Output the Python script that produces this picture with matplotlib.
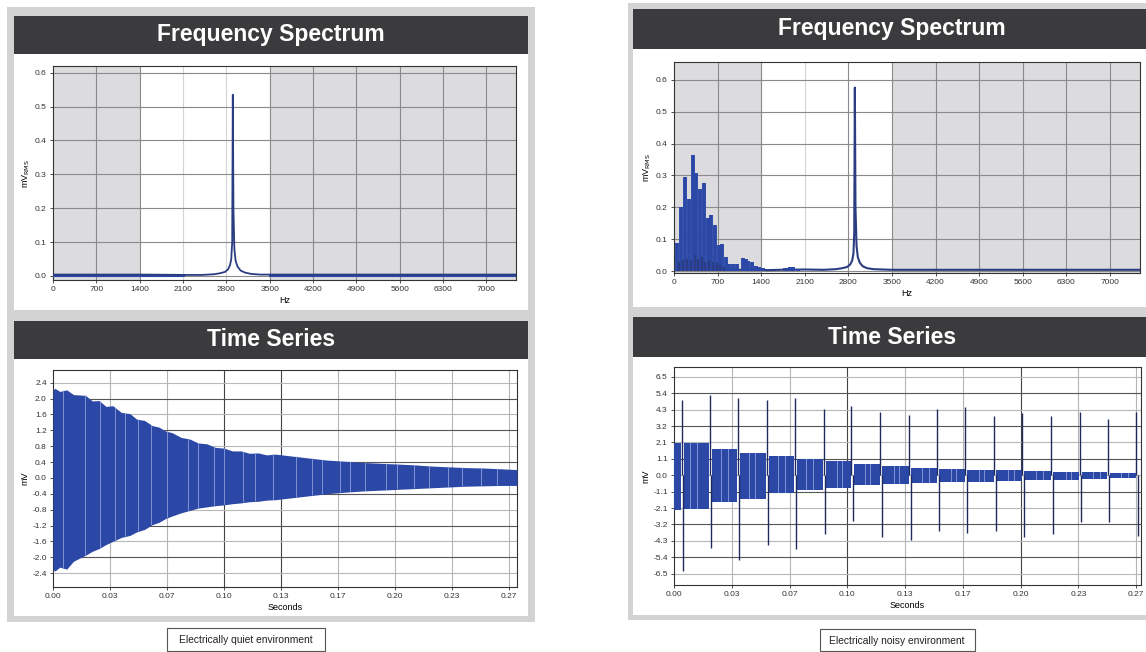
import matplotlib
matplotlib.use("Agg")
import matplotlib.pyplot as plt
from matplotlib.patches import Rectangle

plt.rcParams['font.family'] = ['Liberation Sans', 'DejaVu Sans']

W, H = 1146, 652

# ---- data ----
freq_ticks = [0, 700, 1400, 2100, 2800, 3500, 4200, 4900, 5600, 6300, 7000]
amp_ticks = [0.0, 0.1, 0.2, 0.3, 0.4, 0.5, 0.6]
amp_labels = ['0.0', '0.1', '0.2', '0.3', '0.4', '0.5', '0.6']

time_ticks = [0, 1/30, 2/30, 3/30, 4/30, 5/30, 6/30, 7/30, 8/30]
time_labels = ['0.00', '0.03', '0.07', '0.10', '0.13', '0.17', '0.20', '0.23', '0.27']

# quiet spectrum
quiet_freq = [0, 700, 1400, 2100, 2400, 2600, 2700, 2780, 2830, 2860, 2880, 2895,
              2905, 2915, 2930, 2950, 2980, 3030, 3100, 3200, 3350, 3500, 4200, 5600, 7000, 7480]
quiet_amp = [0.004, 0.004, 0.004, 0.003, 0.003, 0.005, 0.008, 0.012, 0.02, 0.032, 0.05, 0.1,
             0.535, 0.2, 0.08, 0.045, 0.028, 0.016, 0.01, 0.006, 0.004, 0.004, 0.004, 0.004, 0.004, 0.004]

# noisy spectrum: low frequency lines and the main peak
noisy_bar_freq = [54, 113, 178, 242, 307, 355, 415, 474, 538, 598, 652, 716, 770,
                  835, 888, 953, 1018, 1104, 1150, 1195, 1250, 1314, 1368, 1427,
                  1777, 1830, 1858, 1912, 1992]
noisy_bar_amp = [0.09, 0.203, 0.296, 0.227, 0.364, 0.309, 0.258, 0.278, 0.168, 0.177,
                 0.146, 0.082, 0.087, 0.044, 0.023, 0.023, 0.023, 0.041, 0.04, 0.031,
                 0.03, 0.018, 0.015, 0.012, 0.01, 0.012, 0.015, 0.015, 0.008]
noisy_small_freq = [80, 145, 210, 275, 330, 385, 445, 505, 565, 625, 685, 740, 800]
noisy_small_amp = [0.03, 0.035, 0.04, 0.035, 0.05, 0.04, 0.045, 0.03, 0.035, 0.03, 0.025, 0.02, 0.015]
noisy_freq = [0, 1400, 1500, 1700, 2100, 2400, 2600, 2700, 2780, 2830, 2860, 2880, 2893,
              2903, 2913, 2930, 2950, 2980, 3030, 3100, 3200, 3500, 4200, 5600, 7000, 7480]
noisy_amp = [0.005, 0.005, 0.004, 0.005, 0.006, 0.005, 0.007, 0.01, 0.014, 0.022, 0.034, 0.055, 0.12,
             0.575, 0.2, 0.08, 0.045, 0.028, 0.016, 0.01, 0.007, 0.005, 0.005, 0.005, 0.005, 0.005]

# quiet time series: envelope of the decaying oscillation
quiet_t = [0.0, 0.001, 0.004, 0.008, 0.012, 0.019, 0.023, 0.027, 0.031, 0.035, 0.04, 0.045,
           0.049, 0.0535, 0.058, 0.062, 0.066, 0.0697, 0.075, 0.08, 0.085, 0.09,
           0.095, 0.10, 0.105, 0.11, 0.115, 0.12, 0.125, 0.13, 0.14, 0.15, 0.16, 0.171,
           0.181, 0.191, 0.201, 0.211, 0.221, 0.231, 0.241, 0.2515, 0.262, 0.2715]
quiet_hi = [2.2, 2.26, 2.18, 2.22, 2.1, 2.08, 1.94, 1.95, 1.8, 1.82, 1.65, 1.62,
            1.48, 1.45, 1.32, 1.28, 1.18, 1.14, 1.02, 0.98, 0.88, 0.86,
            0.77, 0.75, 0.68, 0.68, 0.62, 0.63, 0.58, 0.6, 0.55, 0.5, 0.45, 0.42,
            0.39, 0.37, 0.35, 0.33, 0.3, 0.28, 0.26, 0.25, 0.23, 0.21]
quiet_lo = [-2.3, -2.35, -2.25, -2.3, -2.1, -1.95, -1.85, -1.78, -1.68, -1.6, -1.5, -1.45,
            -1.36, -1.3, -1.18, -1.12, -1.02, -0.96, -0.88, -0.82, -0.76, -0.73,
            -0.7, -0.68, -0.65, -0.63, -0.6, -0.59, -0.56, -0.55, -0.5, -0.45, -0.4, -0.36,
            -0.33, -0.31, -0.29, -0.27, -0.25, -0.23, -0.21, -0.2, -0.19, -0.19]
quiet_streak_t = [0.006, 0.019, 0.0273, 0.0364, 0.0424, 0.0495, 0.0576, 0.0667, 0.0788,
                  0.0848, 0.094, 0.1, 0.111, 0.118, 0.129, 0.142, 0.1515, 0.1576, 0.1677,
                  0.1737, 0.1828, 0.195, 0.201, 0.211, 0.2202, 0.2313, 0.2394, 0.2505, 0.2596]
quiet_ts_ticks = [-2.4, -2.0, -1.6, -1.2, -0.8, -0.4, 0.0, 0.4, 0.8, 1.2, 1.6, 2.0, 2.4]
quiet_ts_labels = ['-2.4', '-2.0', '-1.6', '-1.2', '-0.8', '-0.4', '0.0',
                   '0.4', '0.8', '1.2', '1.6', '2.0', '2.4']

# noisy time series: band between spikes, and the spikes
spike_t = [0.0044, 0.0207, 0.0367, 0.0535, 0.0696, 0.0864, 0.1024, 0.119, 0.1358,
           0.1519, 0.1681, 0.1849, 0.201, 0.2178, 0.2342, 0.2502, 0.2667]
spike_up = [5.0, 5.3, 5.1, 5.0, 5.1, 4.4, 4.6, 4.2, 4.0, 4.4, 4.5, 3.9, 4.1, 3.9, 4.2, 3.7, 4.2]
spike_down = [-6.3, -4.8, -5.6, -4.6, -4.9, -3.9, -3.0, -4.1, -4.3, -3.7, -3.8, -3.7,
              -4.1, -3.9, -3.1, -3.1, -4.0]
band_t = [0.0] + spike_t
band_hi = [2.1, 2.1, 1.75, 1.5, 1.3, 1.1, 0.92, 0.77, 0.62, 0.5, 0.44, 0.37, 0.33, 0.29, 0.24, 0.2, 0.15]
band_lo = [-2.3, -2.2, -1.75, -1.55, -1.2, -1.0, -0.84, -0.66, -0.6, -0.5, -0.46, -0.42,
           -0.37, -0.33, -0.29, -0.22, -0.15]
noisy_streak_t = [0.009, 0.013, 0.027, 0.031, 0.043, 0.047, 0.06, 0.064, 0.076, 0.08,
                  0.094, 0.097, 0.11, 0.113, 0.127, 0.13, 0.143, 0.147, 0.16, 0.163,
                  0.176, 0.179, 0.193, 0.196, 0.209, 0.213, 0.226, 0.229, 0.242, 0.246,
                  0.258, 0.262]
noisy_ts_ticks = [-6.5, -5.4167, -4.3333, -3.25, -2.1667, -1.0833, 0.0,
                  1.0833, 2.1667, 3.25, 4.3333, 5.4167, 6.5]
noisy_ts_labels = ['-6.5', '-5.4', '-4.3', '-3.2', '-2.1', '-1.1', '0.0',
                   '1.1', '2.1', '3.2', '4.3', '5.4', '6.5']

CARD = '#d3d3d3'
HEAD = '#3b3b3d'
SHADE = '#dcdbdd'
GRID = '#8a8a8a'
LINE = '#2b3d82'
FILL = '#2c48a6'
STREAK = '#8c9fdc'


def fig_rect(fig, x0, y0, x1, y1, color, z=0, ec='none', lw=0):
    fig.add_artist(Rectangle((x0 / W, 1 - y1 / H), (x1 - x0) / W, (y1 - y0) / H,
                             transform=fig.transFigure, facecolor=color,
                             edgecolor=ec, linewidth=lw, zorder=z))


def header(fig, x0, y0, x1, y1, text, cx):
    fig_rect(fig, x0, y0, x1, y1, HEAD, z=1)
    fig.text(cx / W, 1 - (y0 + y1) / 2 / H, text, color='white', fontsize=16.5,
             fontweight='bold', ha='center', va='center', zorder=2)


def add_ax(fig, x0, y0, x1, y1):
    ax = fig.add_axes([x0 / W, 1 - y1 / H, (x1 - x0) / W, (y1 - y0) / H])
    ax.set_zorder(5)
    return ax


def style(ax):
    for s in ax.spines.values():
        s.set_color('#333333')
        s.set_linewidth(0.8)
    ax.tick_params(labelsize=6, length=2.5, width=0.6, colors='#333333', pad=2)


def spectrum_axes(ax, top, bottom, light):
    ax.set_xlim(0, 7480)
    ax.set_ylim(bottom, top)
    ax.axvspan(0, 1400, color=SHADE, zorder=0, lw=0)
    ax.axvspan(3500, 7480, color=SHADE, zorder=0, lw=0)
    ax.set_xticks(freq_ticks)
    ax.set_xticklabels([str(f) for f in freq_ticks])
    ax.set_yticks(amp_ticks)
    ax.set_yticklabels(amp_labels)
    for f in freq_ticks[1:]:
        ax.axvline(f, color='#d4d4d4' if f in light else GRID, lw=0.8, zorder=1)
    for a in amp_ticks:
        ax.axhline(a, color=GRID, lw=0.8, zorder=1)
    ax.set_xlabel('Hz', fontsize=6.5, labelpad=2)
    ax.set_ylabel(r'mV$_{\mathrm{RMS}}$', fontsize=6.5, labelpad=2)
    style(ax)


def time_axes(ax, xmax, ylim, ticks, labels, dark):
    ax.set_xlim(0, xmax)
    ax.set_ylim(*ylim)
    ax.set_xticks(time_ticks)
    ax.set_xticklabels(time_labels)
    ax.set_yticks(ticks)
    ax.set_yticklabels(labels)
    for i, t in enumerate(time_ticks):
        if i > 0:
            ax.axvline(t, color='#444444' if i in dark else '#b4b4b4', lw=0.8, zorder=1)
    for i, v in enumerate(ticks):
        ax.axhline(v, color='#555555' if i % 2 == 1 else '#b8b8b8', lw=0.8, zorder=1)
    ax.set_xlabel('Seconds', fontsize=6.5, labelpad=2)
    ax.set_ylabel('mV', fontsize=6.5, labelpad=2)
    style(ax)


def streaks(ax, times, poly, y0, y1):
    # light stripes seen inside the dense trace, clipped to the filled band
    lc = ax.vlines(times, y0, y1, color=STREAK, lw=0.6, zorder=3.5)
    lc.set_clip_path(poly.get_paths()[0], ax.transData)


fig = plt.figure(figsize=(W / 100, H / 100), dpi=100)
fig.patch.set_facecolor('white')

# ---- left card: quiet environment ----
fig_rect(fig, 7, 7, 535, 622, CARD)
fig_rect(fig, 14, 54, 528, 310, 'white', z=0.5)
fig_rect(fig, 14, 359, 528, 616, 'white', z=0.5)
header(fig, 14, 16, 528, 54, 'Frequency Spectrum', 271)
header(fig, 14, 321, 528, 359, 'Time Series', 271)

ax1 = add_ax(fig, 53, 66, 516, 280)
spectrum_axes(ax1, 0.62, -0.012, light=(2100, 2800))
ax1.plot(quiet_freq, quiet_amp, color=LINE, lw=1.3, zorder=3)
ax1.plot([0, 2100], [0.004, 0.004], color=FILL, lw=2.2, zorder=2.9)
ax1.plot([3500, 7480], [0.004, 0.004], color=FILL, lw=2.2, zorder=2.9)

ax2 = add_ax(fig, 53, 370, 517, 587)
time_axes(ax2, 0.2715, (-2.75, 2.72), quiet_ts_ticks, quiet_ts_labels, dark=(3, 4))
q_poly = ax2.fill_between(quiet_t, quiet_lo, quiet_hi, color=FILL, lw=0, zorder=3)
streaks(ax2, quiet_streak_t, q_poly, -2.5, 2.5)

fig_rect(fig, 167, 628, 325, 651, 'white', z=1, ec='#555555', lw=0.8)
fig.text(246 / W, 1 - 640 / H, 'Electrically quiet environment', fontsize=7.4,
         ha='center', va='center', color='#222222', zorder=2)

# ---- right card: noisy environment ----
fig_rect(fig, 628, 3, 1160, 620, CARD)
fig_rect(fig, 633, 49, 1160, 307, 'white', z=0.5)
fig_rect(fig, 633, 357, 1160, 615, 'white', z=0.5)
header(fig, 633, 9, 1160, 49, 'Frequency Spectrum', 892)
header(fig, 633, 317, 1160, 357, 'Time Series', 892)

ax3 = add_ax(fig, 674, 62, 1140, 273)
spectrum_axes(ax3, 0.655, -0.005, light=(2100,))
ax3.plot(noisy_freq, noisy_amp, color=LINE, lw=1.5, zorder=3)
ax3.vlines(noisy_bar_freq, 0, noisy_bar_amp, color=FILL, lw=2.8, zorder=3)
ax3.vlines(noisy_small_freq, 0, noisy_small_amp, color=LINE, lw=1.6, zorder=4)

ax4 = add_ax(fig, 674, 367, 1141, 585)
time_axes(ax4, 0.2695, (-7.25, 7.15), noisy_ts_ticks, noisy_ts_labels, dark=(3, 6))
for i in range(len(band_hi)):
    start = band_t[i] + (0.0012 if i > 0 else 0.0)
    end = band_t[i + 1] - 0.0003
    poly = ax4.fill_between([start, end], band_lo[i], band_hi[i], color=FILL, lw=0, zorder=3)
    inside = [t for t in noisy_streak_t if start < t < end]
    streaks(ax4, inside, poly, -2.5, 2.5)
ax4.vlines(spike_t, 0, spike_up, color='#1f2b5e', lw=1.0, zorder=4)
ax4.vlines([t + 0.0008 for t in spike_t], 0, spike_down, color='#1f2b5e', lw=1.0, zorder=4)

fig_rect(fig, 820, 629, 975, 651, 'white', z=1, ec='#555555', lw=0.8)
fig.text(897 / W, 1 - 641 / H, 'Electrically noisy environment', fontsize=7.4,
         ha='center', va='center', color='#222222', zorder=2)

fig.savefig('out.png', dpi=100)
